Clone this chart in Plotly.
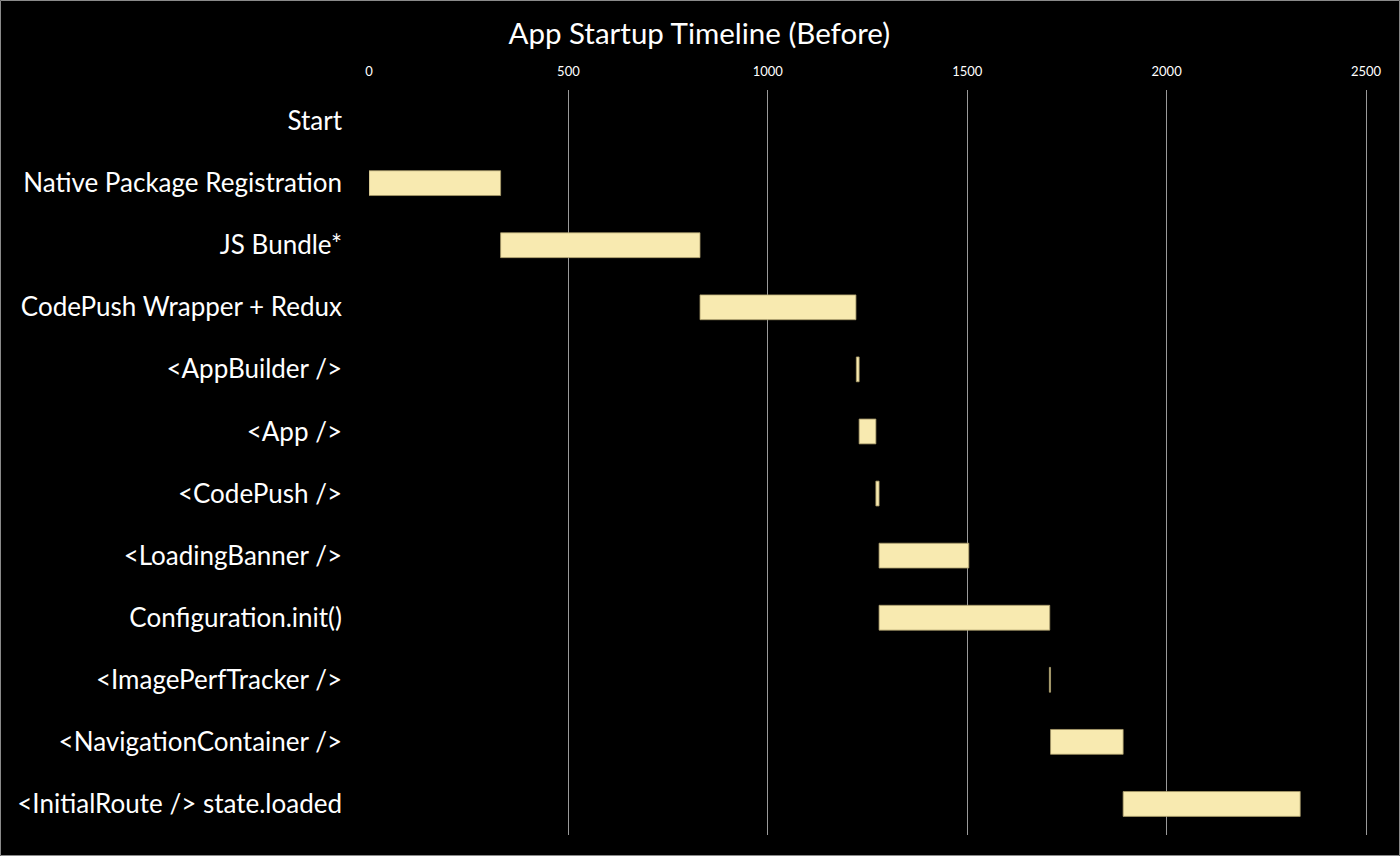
import plotly.graph_objects as go

labels = [
    "Start",
    "Native Package Registration",
    "JS Bundle*",
    "CodePush Wrapper + Redux",
    "<AppBuilder />",
    "<App />",
    "<CodePush />",
    "<LoadingBanner />",
    "Configuration.init()",
    "<ImagePerfTracker />",
    "<NavigationContainer />",
    "<InitialRoute /> state.loaded",
]
starts = [0, 0, 330, 830, 1222, 1229, 1271, 1279, 1279, 1706, 1709, 1891]
ends = [0, 330, 830, 1221, 1229, 1271, 1279, 1504, 1707, 1709, 1891, 2335]
durations = [(e - s) if e > s else None for s, e in zip(starts, ends)]
x_ticks = [0, 500, 1000, 1500, 2000, 2500]

FONT = "Lato"
W, H = 1400, 856
ML, MR, MT, MB = 369, 30, 90, 21
X_MAX = 2510

fig = go.Figure()
fig.add_trace(go.Bar(
    y=labels,
    x=durations,
    base=starts,
    orientation="h",
    width=0.4,
    marker=dict(color="#F8EAB0", line=dict(color="#A89A6A", width=0.8)),
    hoverinfo="skip",
))

pw = W - ML - MR
ph = H - MT - MB
fig.add_shape(
    type="rect", xref="paper", yref="paper",
    x0=-(ML - 0.5) / pw, x1=1 + (MR - 0.5) / pw,
    y0=-(MB - 0.5) / ph, y1=1 + (MT - 0.5) / ph,
    line=dict(color="#8a8a8a", width=1), layer="above",
)

fig.update_layout(
    width=W, height=H,
    margin=dict(l=ML, r=MR, t=MT, b=MB),
    paper_bgcolor="#000000",
    plot_bgcolor="#000000",
    showlegend=False,
    title=dict(
        text="App Startup Timeline (Before)",
        x=0.4995, xref="container", xanchor="center",
        y=1 - 34 / H, yref="container", yanchor="middle",
        font=dict(family=FONT, size=29.5, color="#ffffff"),
    ),
    xaxis=dict(
        side="top",
        range=[0, X_MAX],
        tickvals=x_ticks,
        ticktext=[str(v) for v in x_ticks],
        showgrid=True,
        gridcolor="#9a9a9a",
        gridwidth=1,
        zeroline=False,
        showline=False,
        ticks="",
        ticklabelstandoff=10,
        tickfont=dict(family=FONT, size=13, color="#ffffff"),
    ),
    yaxis=dict(
        categoryorder="array",
        categoryarray=labels,
        autorange="reversed",
        showgrid=False,
        zeroline=False,
        showline=False,
        ticks="",
        ticklabelstandoff=26,
        tickfont=dict(family=FONT, size=26, color="#ffffff"),
    ),
)

fig.write_html(
    "out.html",
    config={"displayModeBar": False},
    post_script="document.body.style.margin='0';document.body.style.background='#000';",
)
